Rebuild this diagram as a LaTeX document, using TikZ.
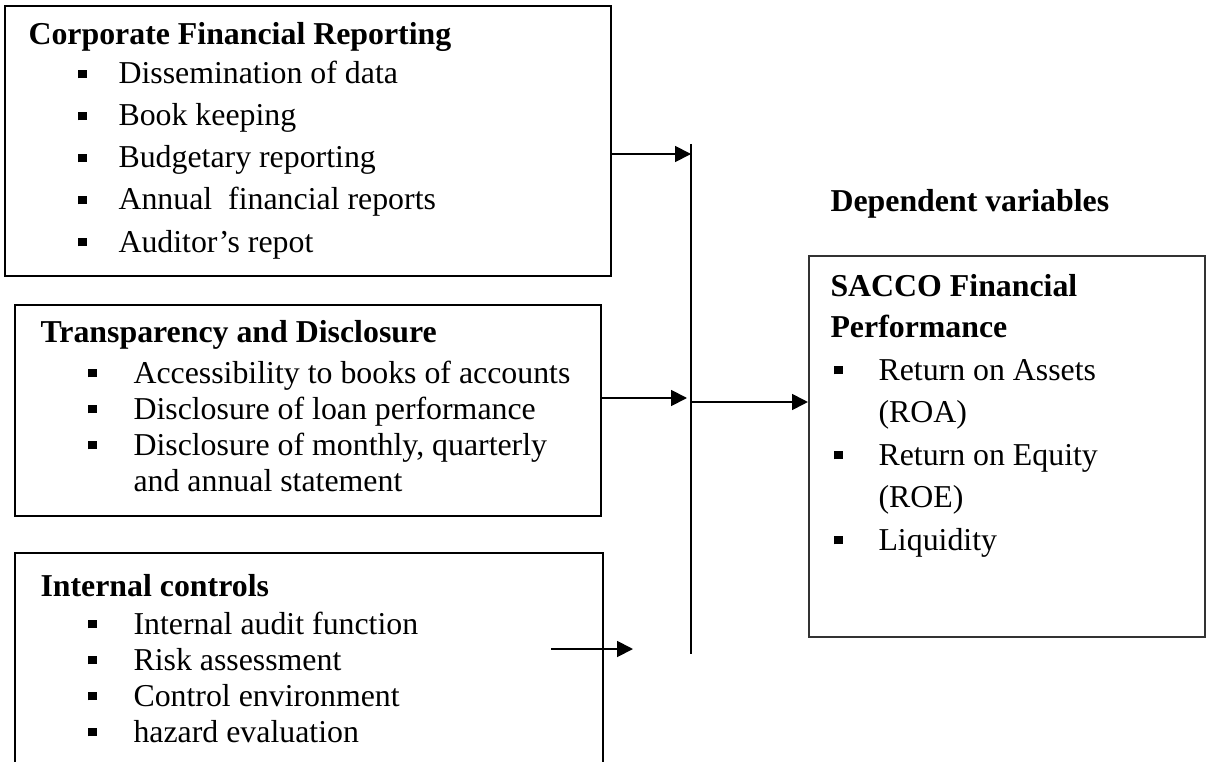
\documentclass[tikz,border=0pt]{standalone}
\usepackage{fontspec}
\setmainfont{Liberation Serif}
\usetikzlibrary{arrows.meta,fit}

\newcommand{\sqbullet}{\rule[2.1pt]{3.4pt}{3.4pt}}
\newcommand{\bitem}[2][14pt]{\llap{\sqbullet\hspace{#1}}#2}

\tikzset{
  box/.style={draw, line width=1.1pt, inner sep=0pt},
  head/.style={anchor=base west, inner sep=0pt, font=\fontsize{12.1}{14}\selectfont\bfseries},
  entry/.style={anchor=base west, inner sep=0pt, font=\fontsize{12.1}{14}\selectfont},
  arr/.style={-{Triangle[length=6pt,width=6pt]}, line width=0.7pt},
}

\begin{document}
\begin{tikzpicture}[x=0.38pt,y=-0.38pt]
\clip (0,0) rectangle (1207,762);
% boxes
\node [box, fit={(5,6) (611,276)}] (crf) {};
\node [box, fit={(15,305) (601,516)}] (tdbox) {};
\node [box, fit={(15,553) (603,790)}] (icbox) {};
\node [box, draw=black!80, line width=0.8pt, fit={(809,256) (1205,637)}] (perf) {};

% corporate financial reporting
\node [head] (crfh) at (28,45) {Corporate Financial Reporting};
\node [entry] (crf1) at (118,84) {\bitem[12pt]{Dissemination of data}};
\node [entry] (crf2) at (118,126) {\bitem[12pt]{Book keeping}};
\node [entry] (crf3) at (118,168) {\bitem[12pt]{Budgetary reporting}};
\node [entry] (crf4) at (118,210) {\bitem[12pt]{Annual~ financial reports}};
\node [entry] (crf5) at (118,252) {\bitem[12pt]{Auditor’s repot}};

% transparency and disclosure
\node [head] (tdh) at (40,343) {Transparency and Disclosure};
\node [entry] (td1) at (133,383) {\bitem{Accessibility to books of accounts}};
\node [entry] (td2) at (133,419) {\bitem{Disclosure of loan performance}};
\node [entry] (td3) at (133,455) {\bitem{Disclosure of monthly, quarterly}};
\node [entry] (td4) at (133,491) {and annual statement};

% internal controls
\node [head] (ich) at (40,596) {Internal controls};
\node [entry] (ic1) at (133,634) {\bitem{Internal audit function}};
\node [entry] (ic2) at (133,670) {\bitem{Risk assessment}};
\node [entry] (ic3) at (133,706) {\bitem{Control environment}};
\node [entry] (ic4) at (133,742) {\bitem{hazard evaluation}};

% dependent side
\node [head] (dep) at (830,212) {Dependent variables};
\node [head] (perfh1) at (830,297) {SACCO Financial};
\node [head] (perfh2) at (830,338) {Performance};
\node [entry] (perf1) at (878,380) {\bitem[13.6pt]{Return on Assets}};
\node [entry] (perf2) at (878,422) {(ROA)};
\node [entry] (perf3) at (878,465) {\bitem[13.6pt]{Return on Equity}};
\node [entry] (perf4) at (878,507) {(ROE)};
\node [entry] (perf5) at (878,550) {\bitem[13.6pt]{Liquidity}};

% connectors
\coordinate (barT) at (691,144);
\coordinate (barB) at (691,654);
\coordinate (tip1) at (691,154);
\coordinate (tip2) at (687,398);
\coordinate (tail3) at (551,649);
\coordinate (tip3) at (633,649);
\coordinate (join) at (691,402);
\draw [line width=1.1pt] (barT) -- (barB);
\draw [arr] (crf.east |- tip1) -- (tip1);
\draw [arr] (tdbox.east |- tip2) -- (tip2);
\draw [arr] (tail3) -- (tip3);
\draw [arr] (join) -- (join -| perf.west);
\end{tikzpicture}
\end{document}
